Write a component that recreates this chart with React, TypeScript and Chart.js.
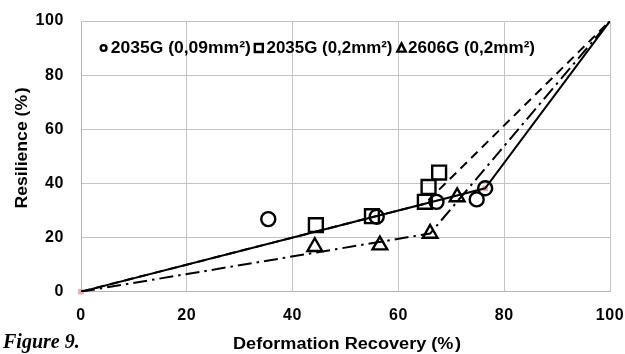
import React, { useEffect, useRef } from "react";
import { Chart, registerables } from "chart.js";

Chart.register(...registerables);

// ---- data ----
const seriesLabels = ["2035G (0,09mm²)", "2035G (0,2mm²)", "2606G (0,2mm²)"];

const circleX = [35.4, 55.9, 67.2, 74.8, 76.4];
const circleY = [26.8, 27.7, 33.2, 34.1, 38.2];

const squareX = [44.4, 55.0, 65.0, 65.7, 67.7];
const squareY = [24.6, 27.9, 33.2, 38.7, 44.0];

const triangleX = [44.2, 56.5, 66.0, 71.1];
const triangleY = [16.6, 17.2, 21.5, 35.0];

// trend lines
const solidX = [0, 76.4, 100];
const solidY = [0, 38.2, 100];
const dashX = [0, 65, 100];
const dashY = [0, 32.5, 100];
const dashDotX = [0, 66, 100];
const dashDotY = [0, 21.5, 100];

// small pink marks
const pinkX = [0, 76.4];
const pinkY = [0, 38.2];

const xTickValues = [0, 20, 40, 60, 80, 100];
const yTickValues = [0, 20, 40, 60, 80, 100];

const xTitle = "Deformation Recovery (%\u200A)";
const yTitle = "Resilience (%\u200A)";
const figureLabel = "Figure 9.";

const pts = (xs: number[], ys: number[]) => xs.map((x, i) => ({ x, y: ys[i] }));

const FONT = "Arial, 'Liberation Sans', sans-serif";

export default function App() {
  const ref = useRef<HTMLCanvasElement | null>(null);

  useEffect(() => {
    if (!ref.current) return;
    const SPACING = "0.6px";
    const setSpacing = (chart: any, v: string) => {
      try {
        (chart.ctx as any).letterSpacing = v;
      } catch (e) {}
    };
    // draw text stretched horizontally so that it spans a target width
    const stretchText = (
      ctx: CanvasRenderingContext2D,
      text: string,
      x: number,
      y: number,
      targetW: number,
      align: "left" | "center"
    ) => {
      const w = ctx.measureText(text).width;
      const s = targetW / w;
      ctx.save();
      ctx.translate(x, y);
      ctx.scale(s, 1);
      ctx.textAlign = align;
      ctx.fillText(text, 0, 0);
      ctx.restore();
    };
    const zeroPad = (s: any) => {
      s.paddingTop = 0;
      s.paddingBottom = 0;
      s.paddingLeft = 0;
      s.paddingRight = 0;
    };
    const customPlugin = {
      id: "customText",
      beforeUpdate(chart: any) {
        setSpacing(chart, SPACING);
      },
      beforeLayout(chart: any) {
        setSpacing(chart, SPACING);
      },
      beforeDraw(chart: any) {
        const ctx = chart.ctx;
        ctx.save();
        ctx.fillStyle = "#ffffff";
        ctx.fillRect(0, 0, chart.width, chart.height);
        ctx.restore();
        setSpacing(chart, SPACING);
      },
      afterDraw(chart: any) {
        const ctx = chart.ctx as CanvasRenderingContext2D;
        ctx.save();
        (ctx as any).letterSpacing = "0px";
        ctx.fillStyle = "#000";
        ctx.strokeStyle = "#000";

        // legend
        ctx.font = `bold 16px ${FONT}`;
        ctx.textBaseline = "middle";
        const ly = 48;
        const markerCx = [103.6, 258.8, 401.5];
        const textX = [110.8, 266.5, 408];
        const textW = [140, 126, 127];
        const styles = ["circle", "rect", "triangle"];
        seriesLabels.forEach((lab, i) => {
          const cx = markerCx[i];
          ctx.lineWidth = 2.4;
          ctx.beginPath();
          if (styles[i] === "circle") {
            ctx.arc(cx, ly, 2.9, 0, Math.PI * 2);
          } else if (styles[i] === "rect") {
            ctx.rect(cx - 4, ly - 4, 8, 8);
          } else {
            ctx.moveTo(cx, ly - 4.6);
            ctx.lineTo(cx + 4.2, ly + 3.6);
            ctx.lineTo(cx - 4.2, ly + 3.6);
            ctx.closePath();
          }
          ctx.stroke();
          stretchText(ctx, lab, textX[i], ly + 0.5, textW[i], "left");
        });

        // x title
        ctx.font = `bold 16px ${FONT}`;
        ctx.textBaseline = "middle";
        stretchText(ctx, xTitle, 347, 344.5, 228, "center");

        // y title
        ctx.save();
        ctx.translate(23, 148);
        ctx.rotate(-Math.PI / 2);
        stretchText(ctx, yTitle, 0, 0, 121, "center");
        ctx.restore();

        // figure label
        ctx.font = `bold italic 20px 'Liberation Serif', 'Times New Roman', serif`;
        ctx.textAlign = "left";
        ctx.textBaseline = "alphabetic";
        ctx.fillText(figureLabel, 3, 348);
        ctx.restore();
        setSpacing(chart, SPACING);
      },
    };

    const lineDs = (xs: number[], ys: number[], dash: number[]) => ({
      type: "line" as const,
      data: pts(xs, ys),
      borderColor: "#000",
      borderWidth: 2,
      borderDash: dash,
      pointRadius: 0,
      showLine: true,
      fill: false,
      tension: 0,
    });

    const markerDs = (xs: number[], ys: number[], style: string, r: number, label: string) => ({
      type: "scatter" as const,
      label,
      data: pts(xs, ys),
      pointStyle: style,
      pointRadius: r,
      pointBorderWidth: 2.4,
      pointBorderColor: "#000",
      pointBackgroundColor: "rgba(0,0,0,0)",
      showLine: false,
      clip: false as any,
    });

    const chart = new Chart(ref.current, {
      type: "scatter",
      data: {
        datasets: [
          markerDs(circleX, circleY, "circle", 7, seriesLabels[0]),
          markerDs(squareX, squareY, "rect", 9.8, seriesLabels[1]),
          markerDs(triangleX, triangleY, "triangle", 8.5, seriesLabels[2]),
          lineDs(solidX, solidY, []),
          lineDs(dashX, dashY, [9, 6]),
          lineDs(dashDotX, dashDotY, [14, 5, 2.5, 5]),
          {
            type: "scatter" as const,
            data: pts(pinkX, pinkY),
            pointStyle: "rect",
            pointRadius: 4,
            pointBorderWidth: 0,
            pointBackgroundColor: "#f2a9a9",
            clip: false as any,
          },
        ] as any,
      },
      options: {
        animation: false,
        responsive: true,
        maintainAspectRatio: false,
        layout: { autoPadding: false, padding: { top: 21, right: 15, left: 0, bottom: 0 } },
        plugins: {
          legend: { display: false },
          tooltip: { enabled: false },
        },
        scales: {
          x: {
            type: "linear",
            min: 0,
            max: 100,
            afterBuildTicks: (s: any) => {
              s.ticks = xTickValues.map((v) => ({ value: v }));
            },
            afterFit: (s: any) => {
              s.height = 62.3;
              zeroPad(s);
            },
            ticks: {
              padding: 14,
              color: "#000",
              font: { family: FONT, size: 16, weight: "bold" },
              maxRotation: 0,
            },
            grid: { color: "#c4c4c4", lineWidth: 1, drawTicks: false },
            border: { color: "#b4b4b4", width: 1 },
          },
          y: {
            type: "linear",
            min: 0,
            max: 100,
            afterBuildTicks: (s: any) => {
              s.ticks = yTickValues.map((v) => ({ value: v }));
            },
            afterFit: (s: any) => {
              s.width = 81;
              zeroPad(s);
            },
            ticks: {
              padding: 17,
              color: "#000",
              font: { family: FONT, size: 16, weight: "bold" },
            },
            grid: { color: "#c4c4c4", lineWidth: 1, drawTicks: false },
            border: { color: "#b4b4b4", width: 1 },
          },
        },
      } as any,
      plugins: [customPlugin as any],
    });
    return () => chart.destroy();
  }, []);

  return (
    <div
      style={{
        position: "absolute",
        left: 0,
        top: 0,
        width: 625,
        height: 354,
        background: "#fff",
      }}
    >
      <canvas ref={ref} />
    </div>
  );
}
